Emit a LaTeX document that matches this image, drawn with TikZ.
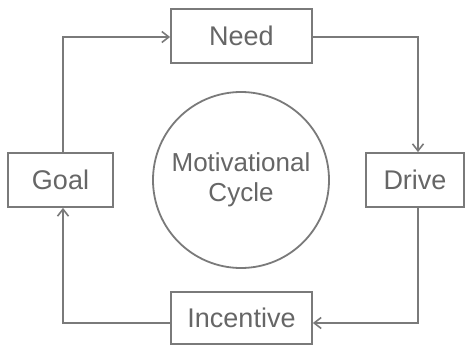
\documentclass[tikz,border=0pt]{standalone}
\usepackage{fontspec}
\setmainfont{Liberation Sans}
\usetikzlibrary{arrows.meta}
\definecolor{linegray}{HTML}{7A7A7A}
\definecolor{textgray}{HTML}{666666}
\begin{document}
\begin{tikzpicture}[x=1pt,y=-1pt,
  stagebox/.style={draw=linegray, line width=1.8pt, rectangle, inner sep=0pt,
    text=textgray, font=\fontsize{27}{30}\selectfont},
  cyclecircle/.style={draw=linegray, line width=1.8pt, circle, inner sep=0pt,
    minimum size=176pt, text=textgray, align=center,
    font=\fontsize{26}{30}\selectfont},
  flow/.style={draw=linegray, line width=1.8pt,
    -{Straight Barb[length=7pt,width=11pt,line width=1.6pt]}}]
\useasboundingbox (0,0) rectangle (466,345);
\fill[white] (0,0) rectangle (466,345);

% stages of the cycle
\node[stagebox, minimum width=141pt, minimum height=54pt] (need) at (241.5,36) {Need};
\node[stagebox, minimum width=98pt, minimum height=54pt] (drive) at (415,180) {Drive};
\node[stagebox, minimum width=141pt, minimum height=52pt] (inc) at (241.5,318) {Incentive};
\node[stagebox, minimum width=105pt, minimum height=54pt] (goal) at (60.5,180) {Goal};

% central label
\node[cyclecircle] (cyc) at (241,180) {Motivational\\Cycle};

% corners of the loop
\coordinate (tl) at (63,37);
\coordinate (tr) at (418,37);
\coordinate (br) at (418,323);
\coordinate (bl) at (63,323);

% connectors
\draw[flow] (goal.north -| tl) -- (tl) -- (need.west |- tl);
\draw[flow] (need.east |- tr) -- (tr) -- (drive.north -| tr);
\draw[flow] (drive.south -| br) -- (br) -- (inc.east |- br);
\draw[flow] (inc.west |- bl) -- (bl) -- (goal.south -| bl);
\end{tikzpicture}
\end{document}
